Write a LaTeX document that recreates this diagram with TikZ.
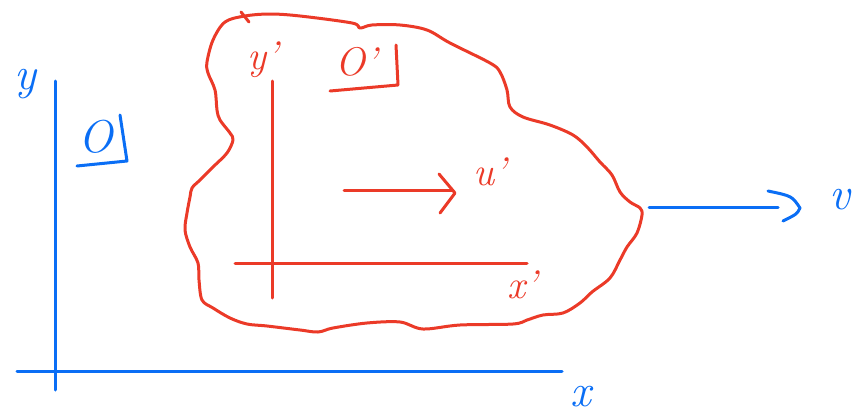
\documentclass[tikz,border=0pt]{standalone}
\usetikzlibrary{calc}
\definecolor{penblue}{RGB}{10,110,245}
\definecolor{penred}{RGB}{235,58,40}
\tikzset{
  blueink/.style={draw=penblue, line width=3pt, line cap=round, line join=round},
  redink/.style={draw=penred, line width=3pt, line cap=round, line join=round},
  bluelabel/.style={text=penblue, inner sep=0pt, font=\fontsize{46}{46}\selectfont\itshape},
  redlabel/.style={text=penred, inner sep=0pt, font=\fontsize{40}{40}\selectfont\itshape},
}
\begin{document}
\begin{tikzpicture}[x=1pt,y=-1pt]
\useasboundingbox (0,0) rectangle (867,415);
% blue frame S
\coordinate (ytop) at (55,81);
\coordinate (ybot) at (55,390);
\coordinate (xleft) at (17,371);
\coordinate (xright) at (562,371);
\draw[blueink] (ytop) -- (ybot);
\draw[blueink] (xleft) -- (xright);
\node[bluelabel] (ylab) at (25,84) {y};
\node[bluelabel] (xlab) at (581,397) {x};
\node[bluelabel] (olab) at (96,137) {O};
\coordinate (ob1) at (120,115);
\coordinate (ob2) at (127,161);
\coordinate (ob3) at (77,166);
\draw[blueink] (ob1) -- (ob2) -- (ob3);
% blue velocity arrow
\coordinate (vstart) at (649,207);
\coordinate (vend) at (778,207);
\draw[blueink] (vstart) -- (vend);
\coordinate (vh1) at (768,191);
\coordinate (vh2) at (800,208);
\coordinate (vh3) at (783,221);
\draw[blueink] (vh1) .. controls (792,196) .. (vh2) .. controls (797,214) .. (vh3);
\node[bluelabel] (vlab) at (840,200) {v};
% red blob
\draw[redink] plot[smooth cycle, tension=0.55] coordinates {
(207,62) (213,40) (225,22) (245,16) (270,14) (300,16) (352,23) (360,28) (372,25) (400,25)
(427,30) (450,43) (490,63) (500,72) (507,90) (510,107) (523,117) (550,125) (573,135)
(587,147) (600,162) (612,175) (620,192) (630,202) (640,208) (642,215) (637,233)
(627,247) (620,260) (610,278) (592,292) (580,303) (563,313) (543,315) (527,320)
(513,324) (460,325) (423,329) (400,322) (367,323) (333,328) (318,332) (300,330)
(267,326) (247,324) (230,318) (213,308) (202,300) (199,280) (198,263) (190,247)
(185,230) (187,213) (190,197) (192,188) (200,180) (213,167) (227,153) (233,140)
(230,133) (220,120) (217,110) (215,90) (208,73)};
\coordinate (tk1) at (241,12);
\coordinate (tk2) at (249,22);
\draw[redink] (tk1) -- (tk2);
% red frame S'
\coordinate (yptop) at (272,81);
\coordinate (ypbot) at (272,298);
\coordinate (xpleft) at (235,263);
\coordinate (xpright) at (527,263);
\draw[redink] (yptop) -- (ypbot);
\draw[redink] (xpleft) -- (xpright);
\node[redlabel] (yplab) at (263,60) {y'};
\node[redlabel] (xplab) at (522,285) {x'};
\node[redlabel] (oplab) at (356,62) {O'};
\coordinate (opb1) at (396,45);
\coordinate (opb2) at (398,85);
\coordinate (opb3) at (330,91);
\draw[redink] (opb1) -- (opb2) -- (opb3);
% red velocity arrow
\coordinate (ustart) at (344,190);
\coordinate (uend) at (453,190);
\draw[redink] (ustart) -- (uend);
\coordinate (uh1) at (439,174);
\coordinate (uh2) at (455,193);
\coordinate (uh3) at (440,213);
\draw[redink] (uh1) -- (uh2) -- (uh3);
\node[redlabel] (uplab) at (490,172) {u'};
\end{tikzpicture}
\end{document}
